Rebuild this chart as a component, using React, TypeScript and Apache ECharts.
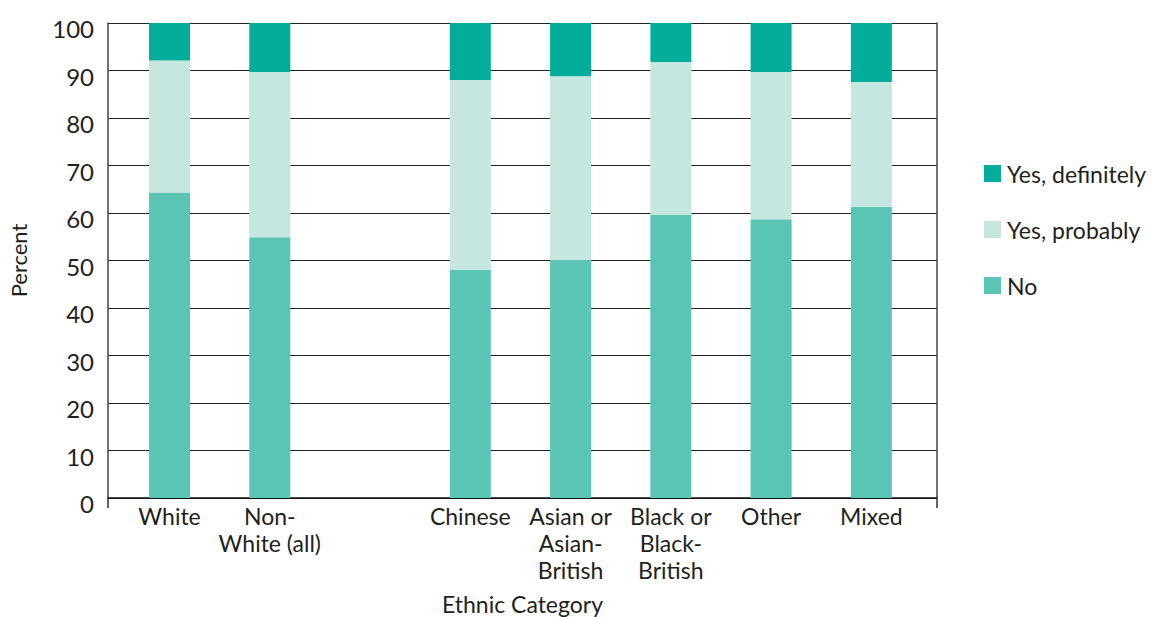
import React, { useEffect, useRef } from "react";
import * as echarts from "echarts";

const categories = [
  "White",
  "Non-\nWhite (all)",
  "",
  "Chinese",
  "Asian or\nAsian-\nBritish",
  "Black or\nBlack-\nBritish",
  "Other",
  "Mixed",
];
const noValues = [64.3, 54.9, null, 48.0, 50.1, 59.6, 58.7, 61.3];
const probablyValues = [27.8, 34.8, null, 40.0, 38.7, 32.2, 31.0, 26.3];
const definitelyValues = [7.9, 10.3, null, 12.0, 11.2, 8.2, 10.3, 12.4];
const seriesNames = ["Yes, definitely", "Yes, probably", "No"];

const FONT = "Lato";
const TXT = "#231F20";

export default function App() {
  const ref = useRef<HTMLDivElement>(null);
  useEffect(() => {
    if (!ref.current) return;
    const chart = echarts.init(ref.current, null, { renderer: "svg" });
    const top = 23;
    const height = 475;
    const gridBase = { containLabel: false, outerBoundsMode: "none" };
    chart.setOption({
      animation: false,
      textStyle: { fontFamily: FONT, color: TXT },
      grid: [
        { ...gridBase, left: 108, top, width: 829, height },
        { ...gridBase, left: 119.4, top, width: 802.1, height },
        { ...gridBase, left: 108, top: top + 5.5, width: 829, height },
      ],
      legend: {
        orient: "vertical",
        left: 984,
        top: 162,
        padding: 0,
        itemWidth: 17,
        itemHeight: 17,
        itemGap: 33,
        icon: "rect",
        data: seriesNames,
        textStyle: { fontFamily: FONT, fontSize: 23, color: TXT, lineHeight: 23, padding: [0, 0, 0, 1] },
      },
      xAxis: [
        {
          type: "value",
          gridIndex: 0,
          min: 0,
          max: 1,
          interval: 1,
          axisLine: { show: true, onZero: false, lineStyle: { color: "#111", width: 1.5 } },
          axisTick: { show: true, length: 10, lineStyle: { color: "#333", width: 1.5 } },
          axisLabel: { show: false },
          splitLine: { show: false },
          name: "Ethnic Category",
          nameLocation: "middle",
          nameGap: 94,
          nameTextStyle: { fontFamily: FONT, fontSize: 23, lineHeight: 23, color: TXT },
        },
        {
          type: "category",
          gridIndex: 1,
          data: categories,
          axisLine: { show: false },
          axisTick: { show: false },
          axisLabel: {
            interval: 0,
            fontFamily: FONT,
            fontSize: 23,
            lineHeight: 27,
            color: TXT,
            margin: 4,
          },
        },
        {
          type: "value",
          gridIndex: 2,
          min: 0,
          max: 1,
          show: false,
        },
      ],
      yAxis: [
        {
          type: "value",
          gridIndex: 0,
          min: 0,
          max: 100,
          interval: 10,
          axisLine: { show: true, lineStyle: { color: "#444", width: 1.5 } },
          axisTick: { show: false },
          axisLabel: { show: false },
          splitLine: { show: true, lineStyle: { color: "#222", width: 1.2 } },
          name: "Percent",
          nameLocation: "middle",
          nameGap: 79,
          nameTextStyle: { fontFamily: FONT, fontSize: 22, color: TXT },
        },
        {
          type: "value",
          gridIndex: 0,
          position: "right",
          min: 0,
          max: 100,
          interval: 10,
          axisLine: { show: true, lineStyle: { color: "#444", width: 1.5 } },
          axisTick: { show: false },
          axisLabel: { show: false },
          splitLine: { show: false },
        },
        {
          type: "value",
          gridIndex: 1,
          min: 0,
          max: 100,
          show: false,
        },
        {
          type: "value",
          gridIndex: 2,
          min: 0,
          max: 100,
          interval: 10,
          axisLine: { show: false },
          axisTick: { show: false },
          splitLine: { show: false },
          axisLabel: {
            fontFamily: FONT,
            fontSize: 24,
            color: TXT,
            margin: 14,
          },
        },
      ],
      series: [
        {
          name: "No",
          type: "bar",
          stack: "total",
          xAxisIndex: 1,
          yAxisIndex: 2,
          barWidth: 41,
          data: noValues,
          itemStyle: { color: "#5AC5B4" },
        },
        {
          name: "Yes, probably",
          type: "bar",
          stack: "total",
          xAxisIndex: 1,
          yAxisIndex: 2,
          barWidth: 41,
          data: probablyValues,
          itemStyle: { color: "#C6E7E0" },
        },
        {
          name: "Yes, definitely",
          type: "bar",
          stack: "total",
          xAxisIndex: 1,
          yAxisIndex: 2,
          barWidth: 41,
          data: definitelyValues,
          itemStyle: { color: "#02AE9B" },
        },
      ],
    });
    return () => chart.dispose();
  }, []);
  return <div ref={ref} style={{ width: 1152, height: 617, position: "absolute", left: 0, top: 0 }} />;
}
